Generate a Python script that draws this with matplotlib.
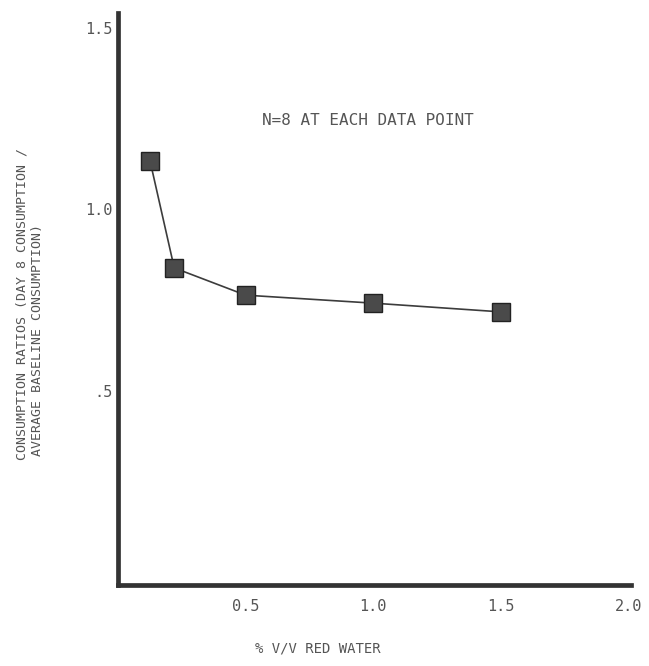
import matplotlib
matplotlib.use("Agg")
import matplotlib.pyplot as plt

# data
red_water = [0.125, 0.22, 0.5, 1.0, 1.5]          # % v/v
ratios = [1.134, 0.839, 0.764, 0.742, 0.718]       # day 8 / baseline consumption

x_ticks = [0.5, 1.0, 1.5, 2.0]
x_tick_labels = ['0.5', '1.0', '1.5', '2.0']
y_ticks = [0.5, 1.0, 1.5]
y_tick_labels = ['.5', '1.0', '1.5']

ink = '#3c3c3c'
txt = '#555555'
mono = ['DejaVu Sans Mono']

fig = plt.figure(figsize=(6.49, 6.66), dpi=100)
ax = fig.add_axes([0.182, 0.1216, 0.79, 0.859])

ax.plot(red_water, ratios, color=ink, lw=1.2, zorder=2)
ax.plot(red_water, ratios, linestyle='none', marker='s', markersize=13.5,
        markerfacecolor='#4a4a4a', markeredgecolor='#222222', markeredgewidth=1.0, zorder=3)

ax.set_xlim(0, 2.01)
ax.set_ylim(-0.034, 1.541)

for side in ['top', 'right']:
    ax.spines[side].set_visible(False)
for side in ['left', 'bottom']:
    ax.spines[side].set_linewidth(3.4)
    ax.spines[side].set_color('#333333')

ax.set_xticks(x_ticks)
ax.set_xticklabels(x_tick_labels, family=mono, fontsize=11, color=txt)
ax.set_yticks(y_ticks)
ax.set_yticklabels(y_tick_labels, family=mono, fontsize=11, color=txt)
ax.tick_params(axis='both', length=0)
ax.tick_params(axis='x', pad=10)
ax.tick_params(axis='y', pad=4)

ax.text(0.98, 1.244, 'N=8 AT EACH DATA POINT', family=mono, fontsize=11.5,
        color=txt, ha='center', va='center')

# axis titles
fig.text(318 / 649, 1 - 649 / 666, '% V/V RED WATER', family=mono, fontsize=10,
         color=txt, ha='center', va='center')
fig.text(22 / 649, 1 - 460 / 666, 'CONSUMPTION RATIOS (DAY 8 CONSUMPTION /',
         family=mono, fontsize=9.5, color=txt, rotation=90, ha='center', va='bottom')
fig.text(38 / 649, 1 - 456 / 666, 'AVERAGE BASELINE CONSUMPTION)',
         family=mono, fontsize=9.5, color=txt, rotation=90, ha='center', va='bottom')

fig.savefig('out.png', dpi=100)
